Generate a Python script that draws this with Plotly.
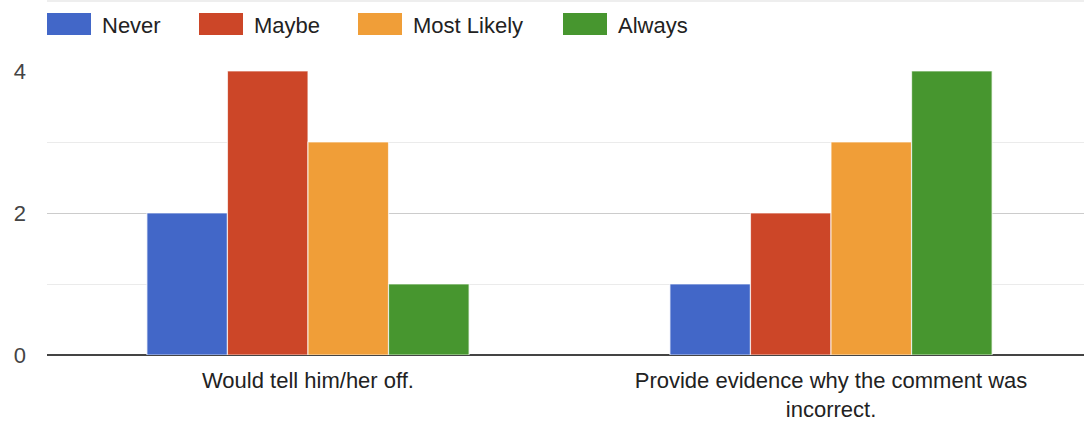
import plotly.graph_objects as go

# Survey responses: how respondents would react
categories = [
    "Would tell him/her off.",
    "Provide evidence why the comment was<br>incorrect.",
]
series_names = ["Never", "Maybe", "Most Likely", "Always"]
never = [2, 1]
maybe = [4, 2]
most_likely = [3, 3]
always = [1, 4]
y_ticks = [0, 2, 4]

colors = ["#4267C8", "#CC4628", "#F09E38", "#47962F"]
series_values = [never, maybe, most_likely, always]

W, H = 1084, 425
L, R, T, B = 47, 0, 71, 70
PLOT_W = W - L - R
PLOT_H = H - T - B
FONT = "Liberation Sans, Arial, Helvetica, sans-serif"


def px_x(px):
    return (px - L) / PLOT_W


def px_y(py):
    return (H - B - py) / PLOT_H


fig = go.Figure()
for name, vals, col in zip(series_names, series_values, colors):
    fig.add_trace(go.Bar(
        x=categories, y=vals, name=name,
        marker=dict(color=col, line=dict(color="rgba(255,255,255,0.7)", width=1.2)),
        showlegend=False,
    ))

# Custom legend: wide colour swatches followed by labels
legend_swatch_left = [47, 199, 358, 563]
for name, col, x0 in zip(series_names, colors, legend_swatch_left):
    fig.add_shape(type="rect", xref="paper", yref="paper",
                  x0=px_x(x0), x1=px_x(x0 + 44), y0=px_y(35), y1=px_y(13),
                  fillcolor=col, line=dict(width=0))
    fig.add_annotation(xref="paper", yref="paper", x=px_x(x0 + 53), y=px_y(25),
                       text=name, showarrow=False, xanchor="left", yanchor="middle",
                       font=dict(family=FONT, size=22, color="#222222"))

# Thin grey strip along the top edge
fig.add_shape(type="rect", xref="paper", yref="paper",
              x0=0, x1=1, y0=px_y(2), y1=px_y(0),
              fillcolor="#eeeeee", line=dict(width=0))

fig.update_layout(
    width=W, height=H,
    margin=dict(l=L, r=R, t=T, b=B, pad=0),
    paper_bgcolor="white", plot_bgcolor="white",
    barmode="group", bargap=0.384, bargroupgap=0,
    font=dict(family=FONT, size=22, color="#333333"),
)
fig.update_xaxes(
    range=[-0.499, 1.4837], showgrid=False, showline=False, zeroline=False,
    ticks="", ticklabelstandoff=10,
    tickfont=dict(size=22, color="#222222"),
)
fig.update_yaxes(
    range=[0, 4], tickvals=y_ticks, ticktext=[str(v) for v in y_ticks],
    showgrid=True, gridcolor="#cccccc", gridwidth=1,
    minor=dict(dtick=1, showgrid=True, gridcolor="#ebebeb", gridwidth=1),
    zeroline=True, zerolinecolor="#444444", zerolinewidth=2,
    showline=False, ticks="", ticklabelstandoff=20,
    tickfont=dict(size=22, color="#444444"),
)

fig.write_html("out.html")
